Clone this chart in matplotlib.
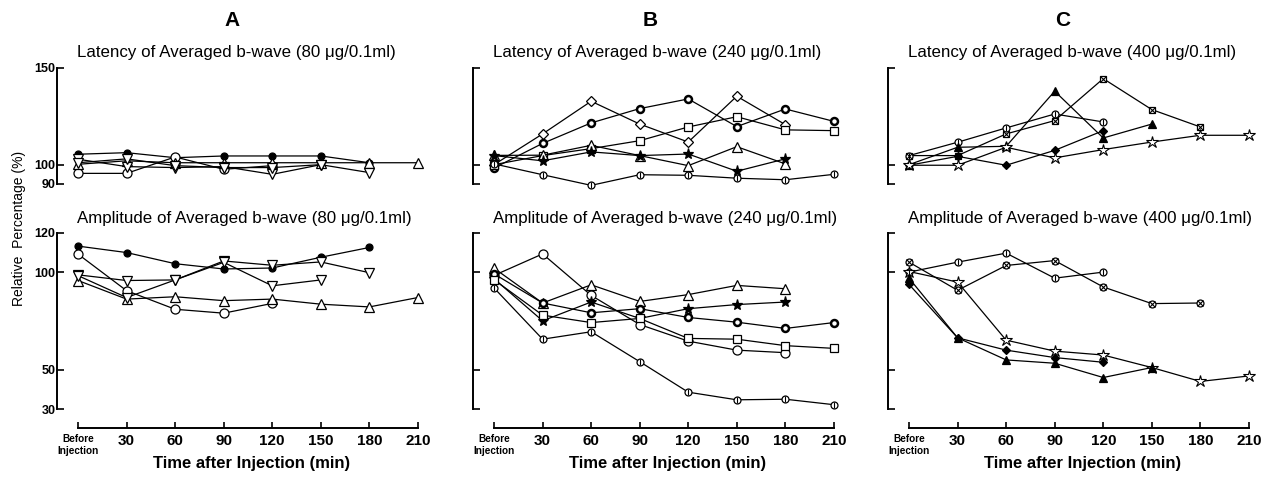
import numpy as np
from matplotlib import pyplot as plt

plt.rcParams['font.family'] = ['Liberation Sans', 'DejaVu Sans']

W, H = 1265, 480

times = [0, 30, 60, 90, 120, 150, 180, 210]
x_labels = ['Before\nInjection', '30', '60', '90', '120', '150', '180', '210']

# panel A, 80 ug
a_lat_dot = [105.4, 106.2, 103.6, 104.5, 104.5, 104.5, 101.0]
a_lat_circle = [95.5, 95.5, 104.0, 97.6, 99.5]
a_lat_tri = [100.2, 102.0, 101.0, 101.0, 101.0, 101.0, 101.0, 101.0]
a_lat_vtri1 = [102.8, 99.0, 98.5, 99.0, 95.0, 100.0, 95.9]
a_lat_vtri2 = [101.0, 103.0, 99.5, 98.5, 98.5, 100.0]

a_amp_dot = [113.3, 110.0, 104.3, 101.6, 102.1, 107.6, 112.6]
a_amp_circle = [109.2, 90.5, 81.0, 79.0, 84.0]
a_amp_tri = [95.7, 86.2, 87.4, 85.4, 86.2, 83.6, 82.2, 87.0]
a_amp_vtri1 = [98.6, 95.7, 96.0, 105.7, 103.5, 105.2, 99.7]
a_amp_vtri2 = [98.2, 87.0, 96.0, 105.0, 93.0, 96.0]

# panel B, 240 ug
b_lat_diamond = [100.0, 115.9, 132.8, 121.0, 111.7, 135.4, 120.7]
b_lat_ring = [98.3, 111.0, 121.6, 129.0, 134.0, 119.7, 128.8, 122.4]
b_lat_square = [100.0, 104.7, 108.3, 112.4, 119.5, 124.8, 118.0, 117.6]
b_lat_tri = [104.8, 104.9, 110.0, 104.7, 99.5, 109.3, 100.4]
b_lat_star = [104.7, 102.0, 106.6, 104.7, 105.5, 96.6, 103.0]
b_lat_bar = [100.4, 94.8, 89.3, 94.8, 94.5, 93.0, 92.2, 95.0]

b_amp_circle = [98.3, 109.3, 88.1, 73.2, 64.7, 60.1, 58.8]
b_amp_tri = [102.0, 84.2, 93.5, 85.0, 88.5, 93.2, 91.5]
b_amp_star = [96.6, 75.1, 84.7, 76.3, 81.3, 83.4, 84.7]
b_amp_ring = [99.1, 84.2, 79.2, 81.3, 76.8, 74.4, 71.2, 74.2]
b_amp_square = [96.1, 78.0, 74.2, 76.3, 66.1, 65.7, 62.4, 61.0]
b_amp_bar = [91.9, 65.7, 69.5, 54.2, 38.6, 34.7, 35.0, 32.2]

# panel C, 400 ug
c_lat_boxx = [104.7, 104.7, 115.9, 122.8, 144.5, 128.5, 119.5]
c_lat_bar = [104.7, 111.6, 119.0, 126.2, 122.1]
c_lat_tri = [100.0, 109.0, 109.5, 138.0, 113.8, 121.0]
c_lat_diamond = [99.7, 104.3, 99.7, 107.4, 117.6]
c_lat_star = [99.7, 99.7, 109.0, 103.5, 107.8, 111.7, 115.2, 115.2]

c_amp_circx = [105.1, 90.7, 103.4, 105.9, 92.4, 83.9, 84.2]
c_amp_bar = [100.0, 105.1, 109.7, 96.9, 100.0]
c_amp_star = [100.3, 94.9, 65.2, 59.6, 57.6, 51.2, 44.1, 46.9]
c_amp_diamond = [93.7, 66.4, 60.1, 56.3, 53.9]
c_amp_tri = [96.9, 66.4, 55.1, 53.4, 46.1, 51.2]

STYLES = {
    'dot': dict(marker='o', mfc='black', ms=5),
    'circle': dict(marker='o', mfc='white', ms=6.5),
    'ring': dict(marker='o', mfc='white', ms=5, mew=1.8),
    'tri': dict(marker='^', mfc='white', ms=6.5),
    'vtri': dict(marker='v', mfc='white', ms=6.5),
    'square': dict(marker='s', mfc='white', ms=5.5),
    'diamond': dict(marker='D', mfc='white', ms=5),
    'star': dict(marker='*', mfc='black', ms=8),
    'bar': dict(marker='o', mfc='white', ms=5),
    'boxx': dict(marker='s', mfc='white', ms=5),
    'circx': dict(marker='o', mfc='white', ms=5),
    'ftri': dict(marker='^', mfc='black', ms=5.5),
    'fdiamond': dict(marker='D', mfc='black', ms=4),
    'ostar': dict(marker='*', mfc='white', ms=9, mew=0.8),
}
OVERLAY = {'bar': '|', 'boxx': 'x', 'circx': 'x'}


def add_axes(left, top, bottom):
    ax = plt.gcf().add_axes([left / W, 1 - bottom / H, 369 / W, (bottom - top) / H])
    ax.set_xlim(-13, 215)
    ax.spines['top'].set_visible(False)
    ax.spines['right'].set_visible(False)
    ax.patch.set_alpha(0)
    ax.tick_params(axis='y', direction='in', length=5, width=1.2,
                   labelsize=9, pad=1)
    ax.spines['left'].set_linewidth(1.4)
    return ax


def draw(ax, values, kind):
    st = STYLES[kind]
    x = times[:len(values)]
    ax.plot(x, values, color='black', lw=0.9, mec='black',
            mew=st.get('mew', 0.9), marker=st['marker'], mfc=st['mfc'],
            ms=st['ms'], clip_on=False, zorder=3)
    if kind in OVERLAY:
        ax.plot(x, values, ls='none', marker=OVERLAY[kind], color='black',
                ms=st['ms'] * 0.9, mew=0.8, clip_on=False, zorder=4)


fig = plt.figure(figsize=(W / 100, H / 100), dpi=100)

panels = [
    ('A', 57, '80', 232,
     [(a_lat_dot, 'dot'), (a_lat_circle, 'circle'), (a_lat_tri, 'tri'),
      (a_lat_vtri1, 'vtri'), (a_lat_vtri2, 'vtri')],
     [(a_amp_dot, 'dot'), (a_amp_circle, 'circle'), (a_amp_tri, 'tri'),
      (a_amp_vtri1, 'vtri'), (a_amp_vtri2, 'vtri')]),
    ('B', 473, '240', 650,
     [(b_lat_diamond, 'diamond'), (b_lat_ring, 'ring'),
      (b_lat_square, 'square'), (b_lat_tri, 'tri'), (b_lat_star, 'star'),
      (b_lat_bar, 'bar')],
     [(b_amp_circle, 'circle'), (b_amp_tri, 'tri'), (b_amp_star, 'star'),
      (b_amp_ring, 'ring'), (b_amp_square, 'square'),
      (b_amp_bar, 'bar')]),
    ('C', 888, '400', 1063,
     [(c_lat_boxx, 'boxx'), (c_lat_bar, 'bar'), (c_lat_tri, 'ftri'),
      (c_lat_diamond, 'fdiamond'), (c_lat_star, 'ostar')],
     [(c_amp_circx, 'circx'), (c_amp_bar, 'bar'), (c_amp_star, 'ostar'),
      (c_amp_diamond, 'fdiamond'), (c_amp_tri, 'ftri')]),
]

for letter, left, dose, cx, lat_series, amp_series in panels:
    first = letter == 'A'

    top_ax = add_axes(left, 68, 184)
    top_ax.set_ylim(90, 150)
    top_ax.set_yticks([90, 100, 150])
    top_ax.spines['bottom'].set_visible(False)
    top_ax.set_xticks([])
    for vals, kind in lat_series:
        draw(top_ax, vals, kind)

    low_ax = add_axes(left, 233, 409)
    low_ax.set_ylim(30, 120)
    low_ax.set_yticks([30, 50, 100, 120])
    low_ax.spines['bottom'].set_position(('outward', 14))
    low_ax.spines['bottom'].set_bounds(0, 210)
    low_ax.spines['bottom'].set_linewidth(1.4)
    low_ax.set_xticks(times)
    low_ax.set_xticklabels(x_labels, fontweight='bold', fontsize=11)
    low_ax.tick_params(axis='x', direction='in', length=4, width=1.2, pad=4)
    low_ax.get_xticklabels()[0].set_fontsize(7.2)
    for vals, kind in amp_series:
        draw(low_ax, vals, kind)

    for ax in (top_ax, low_ax):
        for lab in ax.get_yticklabels():
            lab.set_fontweight('bold')
            if not first:
                lab.set_visible(False)

    x0 = (left + 20) / W
    fig.text(cx / W, 1 - 20 / H, letter, fontsize=15, fontweight='bold',
             ha='center', va='center')
    fig.text(x0, 1 - 57 / H,
             f'Latency of Averaged b-wave ({dose} \u03bcg/0.1ml)',
             fontsize=12.2, ha='left', va='baseline')
    fig.text(x0, 1 - 223 / H,
             f'Amplitude of Averaged b-wave ({dose} \u03bcg/0.1ml)',
             fontsize=12.2, ha='left', va='baseline')
    fig.text((left + 195) / W, 1 - 468 / H, 'Time after Injection (min)',
             fontsize=12, fontweight='bold', ha='center', va='baseline')

fig.text(19 / W, 1 - 228 / H, 'Relative  Percentage (%)', rotation=90,
         fontsize=10, ha='center', va='center')

fig.savefig('out.png', dpi=100)
